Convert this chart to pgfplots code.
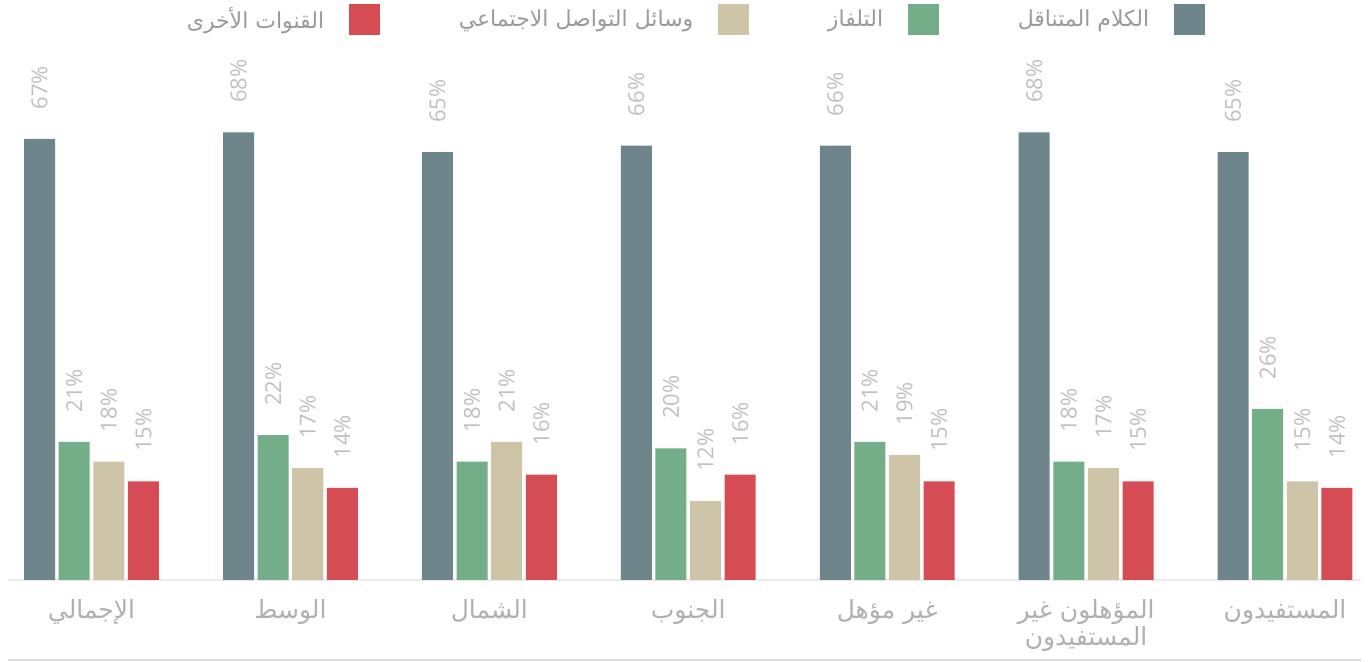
\documentclass[border=0pt]{standalone}
\usepackage{pgfplots}
\usepackage{pgfplotstable}
\pgfplotsset{compat=1.18}
\usepackage{fontspec}
\setmainfont{Open Sans}
\newfontfamily\arabicfont[Script=Arabic]{DejaVu Sans}
\TeXXeTstate=1

\definecolor{cTalk}{HTML}{6E858C}
\definecolor{cTV}{HTML}{74AE88}
\definecolor{cSocial}{HTML}{CEC5A8}
\definecolor{cOther}{HTML}{D64C54}
\definecolor{labgray}{HTML}{BFBFBF}
\definecolor{catgray}{HTML}{B0B0B0}
\definecolor{leggray}{HTML}{9A9A9A}

% x talk tv social other
\pgfplotstableread{
x talk tv social other
0 67 21 18 15
1 68 22 17 14
2 65 18 21 16
3 66 20 12 16
4 66 21 19 15
5 68 18 17 15
6 65 26 15 14
}\data

\begin{document}
\begin{tikzpicture}
\begin{axis}[
    scale only axis,
    width=676.5pt, height=260pt,
    ybar,
    xmin=-0.42, xmax=6.382,
    ymin=0, ymax=79,
    bar width=0.156,
    clip=false,
    axis x line*=bottom,
    axis y line=none,
    x axis line style={draw=black!8, line width=1.25pt, -},
    major tick length=0pt,
    xtick={0,...,6},
    xticklabels={
        {\beginR الإجمالي\endR},
        {\beginR الوسط\endR},
        {\beginR الشمال\endR},
        {\beginR الجنوب\endR},
        {\beginR غير مؤهل\endR},
        {\beginR المؤهلون غير\endR\\\beginR المستفيدون\endR},
        {\beginR المستفيدون\endR}},
    xticklabel style={font=\arabicfont\fontsize{12.5}{13.5}\selectfont, text=catgray,
        align=center, anchor=north, yshift=-6pt},
    /pgf/number format/assume math mode=true,
    nodes near coords={\pgfmathprintnumber{\pgfplotspointmeta}\%},
    nodes near coords style={rotate=90, anchor=west, inner xsep=14.5pt,
        font=\fontsize{11}{12}\selectfont, text=labgray},
    legend plot pos=right,
    reverse legend,
    legend columns=4,
    legend image code/.code={\fill[#1] (0pt,-7.75pt) rectangle (15.5pt,7.75pt);},
    legend style={draw=none, fill=none, at={(0.507,1.077)}, anchor=center,
        font=\arabicfont\fontsize{11}{13}\selectfont, text=leggray,
        column sep=0pt,
        /tikz/every odd column/.append style={column sep=10.5pt},
        /tikz/every even column/.append style={column sep=37.3pt}},
]
\addplot[fill=cTalk, draw=none, bar shift=-0.261] table[x=x, y=talk] {\data};
\addlegendentry{\beginR الكلام المتناقل\endR}
\addplot[fill=cTV, draw=none, bar shift=-0.087] table[x=x, y=tv] {\data};
\addlegendentry{\beginR التلفاز\endR}
\addplot[fill=cSocial, draw=none, bar shift=0.087] table[x=x, y=social] {\data};
\addlegendentry{\beginR وسائل التواصل الاجتماعي\endR}
\addplot[fill=cOther, draw=none, bar shift=0.261] table[x=x, y=other] {\data};
\addlegendentry{\beginR القنوات الأخرى\endR}

\draw[black!15, line width=0.75pt] (rel axis cs:0,-0.1538) -- (rel axis cs:1,-0.1538);
\coordinate (bl) at (rel axis cs:-0.00591,-0.15769);
\coordinate (tr) at (rel axis cs:1.00813,1.11538);
\end{axis}
\pgfresetboundingbox
\path (bl) rectangle (tr);
\end{tikzpicture}
\end{document}
